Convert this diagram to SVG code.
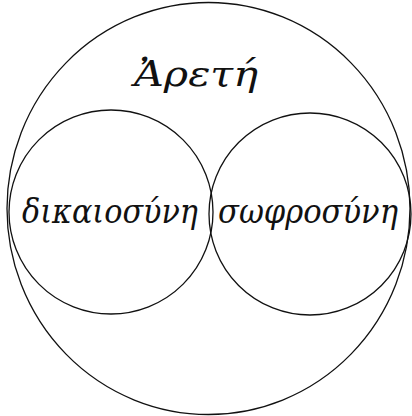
<svg xmlns="http://www.w3.org/2000/svg" width="412" height="416" viewBox="0 0 412 416">
<style>
.c{fill:none;stroke:#111;stroke-width:1.3}
.t{font-family:"DejaVu Serif","Liberation Serif",serif;font-style:italic;fill:#111}
</style>
<rect width="412" height="416" fill="#fff"/>
<g id="arete">
<ellipse class="c" cx="208.5" cy="208.5" rx="201.5" ry="206"/>
<text class="t" x="196" y="86" font-size="36" text-anchor="middle" textLength="124" lengthAdjust="spacingAndGlyphs">Ἀρετή</text>
</g>
<g id="dikaiosyne">
<circle class="c" cx="111" cy="212" r="102"/>
<text class="t" x="110" y="223" font-size="34" text-anchor="middle" textLength="176" lengthAdjust="spacingAndGlyphs">δικαιοσύνη</text>
</g>
<g id="sophrosyne">
<circle class="c" cx="310" cy="214" r="101"/>
<text class="t" x="308" y="223" font-size="34" text-anchor="middle" textLength="180" lengthAdjust="spacingAndGlyphs">σωφροσύνη</text>
</g>
<g id="connectors"/>
</svg>
